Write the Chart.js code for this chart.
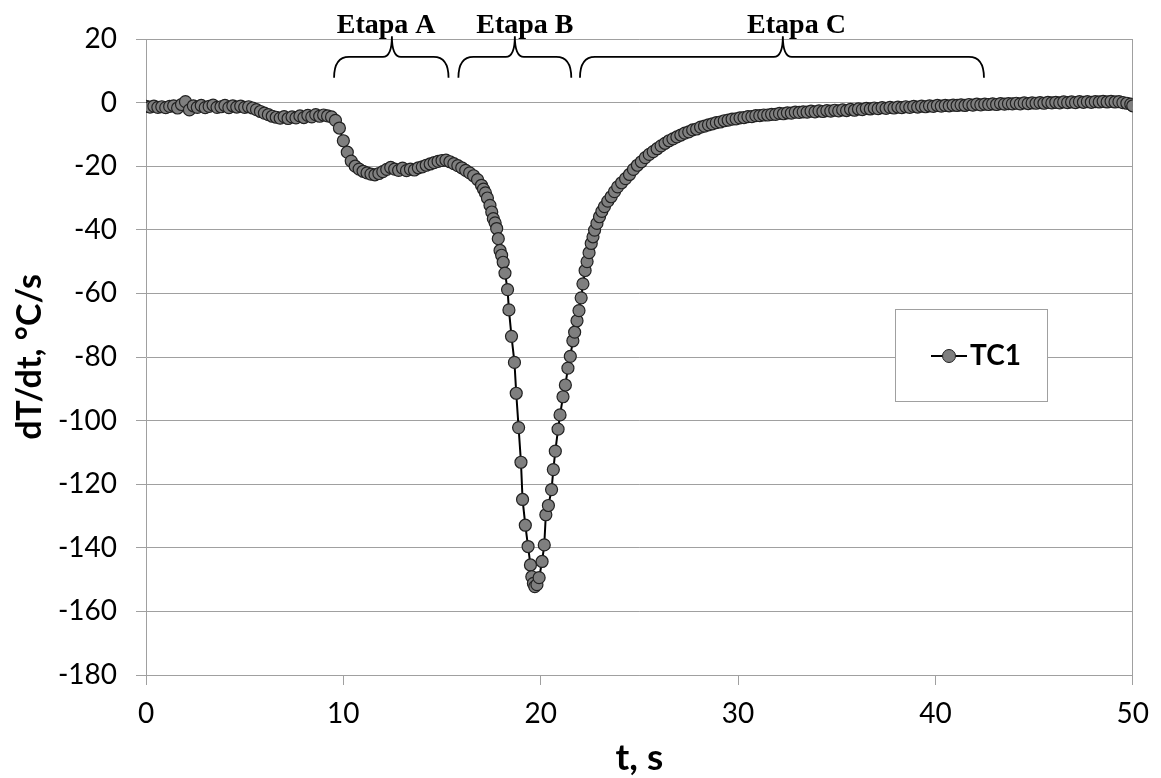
<!DOCTYPE html>
<html>
<head>
<meta charset="utf-8">
<title>dT/dt TC1</title>
<script src="https://cdn.jsdelivr.net/npm/chart.js@4.4.0/dist/chart.umd.min.js"></script>
<style>
  html, body { margin: 0; padding: 0; background: #fff; }
  #wrap { width: 1161px; height: 778px; }
</style>
</head>
<body>
<div id="wrap"><canvas id="rateChart" width="1161" height="778"></canvas></div>
<script>
// time, s
const times = [
  0, 0.2, 0.4, 0.6, 0.8, 1.0, 1.2, 1.4, 1.6, 1.8,
  2.0, 2.2, 2.4, 2.6, 2.8, 3.0, 3.2, 3.4, 3.6, 3.8,
  4.0, 4.2, 4.4, 4.6, 4.8, 5.0, 5.2, 5.4, 5.6, 5.8,
  6.0, 6.2, 6.4, 6.6, 6.8, 7.0, 7.2, 7.4, 7.6, 7.8,
  8.0, 8.2, 8.4, 8.6, 8.8, 9.0, 9.2, 9.4, 9.6, 9.8,
  10.0, 10.2, 10.4, 10.6, 10.8, 11.0, 11.2, 11.4, 11.6, 11.8,
  12.0, 12.2, 12.4, 12.6, 12.8, 13.0, 13.2, 13.4, 13.6, 13.8,
  14.0, 14.2, 14.4, 14.6, 14.8, 15.0, 15.2, 15.4, 15.6, 15.8,
  16.0, 16.2, 16.4, 16.6, 16.8,
  17.0, 17.1, 17.2, 17.3, 17.43, 17.52, 17.6, 17.69, 17.77, 17.85,
  17.94, 18.02, 18.1, 18.19, 18.32, 18.39, 18.52, 18.67, 18.76, 18.88,
  19.0, 19.08, 19.22, 19.36, 19.48, 19.55, 19.63, 19.70, 19.81, 19.92,
  20.07, 20.18, 20.26, 20.39, 20.55, 20.64, 20.74, 20.88, 20.98, 21.13,
  21.25, 21.38, 21.50, 21.63, 21.72, 21.84, 21.94, 22.05, 22.14, 22.25,
  22.35, 22.45, 22.56, 22.65, 22.73, 22.85, 22.98, 23.1, 23.23, 23.4,
  23.57, 23.74, 23.9,
  24.1, 24.3, 24.5, 24.7, 24.9, 25.1, 25.3, 25.5, 25.7, 25.9,
  26.1, 26.3, 26.5, 26.7, 26.9, 27.1, 27.3, 27.5, 27.7, 27.9,
  28.1, 28.3, 28.5, 28.7, 28.9, 29.1, 29.3, 29.5, 29.7, 29.9,
  30.1, 30.3, 30.5, 30.7, 30.9, 31.1, 31.3, 31.5, 31.7, 31.9,
  32.1, 32.3, 32.5, 32.7, 32.9, 33.1, 33.3, 33.5, 33.7, 33.9,
  34.1, 34.3, 34.5, 34.7, 34.9, 35.1, 35.3, 35.5, 35.7, 35.9,
  36.1, 36.3, 36.5, 36.7, 36.9, 37.1, 37.3, 37.5, 37.7, 37.9,
  38.1, 38.3, 38.5, 38.7, 38.9, 39.1, 39.3, 39.5, 39.7, 39.9,
  40.1, 40.3, 40.5, 40.7, 40.9, 41.1, 41.3, 41.5, 41.7, 41.9,
  42.1, 42.3, 42.5, 42.7, 42.9, 43.1, 43.3, 43.5, 43.7, 43.9,
  44.1, 44.3, 44.5, 44.7, 44.9, 45.1, 45.3, 45.5, 45.7, 45.9,
  46.1, 46.3, 46.5, 46.7, 46.9, 47.1, 47.3, 47.5, 47.7, 47.9,
  48.1, 48.3, 48.5, 48.7, 48.9, 49.1, 49.3, 49.5, 49.7, 49.9,
  50.0
];

// dT/dt, °C/s (TC1)
const rates = [
  -1.2, -1.4, -1.1, -1.5, -1.3, -1.6, -1.2, -1.0, -1.7, -0.6,
  0.3, -2.3, -1.0, -1.5, -0.9, -1.6, -1.2, -0.8, -1.5, -1.3,
  -0.9, -1.6, -1.0, -1.4, -1.1, -1.5, -1.3, -1.7, -2.2, -2.8,
  -3.3, -3.8, -4.3, -4.6, -4.9, -4.4, -5.0, -4.5, -4.8, -4.2,
  -4.7, -4.0, -4.5, -3.8, -4.3, -3.9, -4.2, -4.5, -5.6, -8.0,
  -12.0, -15.6, -18.4, -20.0, -20.9, -21.6, -22.1, -22.5, -22.7, -22.3,
  -21.7, -21.0, -20.4, -20.9, -21.3, -20.6, -21.4, -20.9, -21.2, -20.5,
  -20.2, -19.7, -19.3, -18.9, -18.5, -18.2, -18.1, -18.6, -19.2, -19.8,
  -20.5, -21.3, -22.1, -23.0, -24.2,
  -26.0, -27.2, -28.4, -30.0, -32.3, -34.4, -36.5, -37.8, -39.6, -42.8,
  -46.5, -48.0, -50.2, -53.6, -58.8, -65.2, -73.5, -81.7, -91.4, -102.2,
  -113.1, -124.8, -132.9, -139.6, -145.4, -149.1, -151.2, -152.2, -151.6, -149.4,
  -144.3, -139.1, -129.6, -126.7, -121.7, -115.4, -109.6, -102.7, -98.2, -92.5,
  -88.8, -83.5, -79.8, -74.9, -72.2, -68.6, -65.4, -61.4, -57.0, -52.8,
  -50.0, -47.2, -44.3, -42.2, -40.1, -38.0, -35.9, -34.2, -32.7, -31.0,
  -29.6, -28.0, -26.5,
  -25.2, -23.9, -22.6, -21.0, -19.7, -18.6, -17.3, -16.3, -15.4, -14.5,
  -13.6, -12.8, -12.0, -11.4, -10.8, -10.2, -9.6, -9.2, -8.6, -8.3,
  -7.7, -7.4, -7.0, -6.7, -6.3, -6.1, -5.7, -5.5, -5.2, -5.1,
  -4.8, -4.7, -4.4, -4.4, -4.1, -4.1, -3.9, -3.9, -3.7, -3.7,
  -3.4, -3.5, -3.2, -3.3, -3.0, -3.1, -2.9, -3.0, -2.7, -2.9,
  -2.6, -2.8, -2.5, -2.7, -2.4, -2.6, -2.3, -2.5, -2.1, -2.4,
  -2.0, -2.2, -1.8, -2.0, -1.7, -1.9, -1.6, -1.8, -1.5, -1.7,
  -1.4, -1.6, -1.3, -1.5, -1.2, -1.4, -1.1, -1.3, -1.0, -1.2,
  -0.9, -1.1, -0.9, -1.0, -0.8, -0.9, -0.7, -0.9, -0.6, -0.8,
  -0.5, -0.7, -0.5, -0.6, -0.4, -0.6, -0.3, -0.5, -0.3, -0.4,
  -0.2, -0.4, -0.1, -0.3, -0.1, -0.2, 0.0, -0.2, 0.1, -0.1,
  0.1, -0.1, 0.2, 0.0, 0.2, 0.0, 0.3, 0.1, 0.3, 0.1,
  0.3, 0.2, 0.4, 0.2, 0.4, 0.2, 0.3, 0.0, -0.2, -0.5,
  -1.0
];

// stage annotations (x in seconds)
const stageNames = ['Etapa A', 'Etapa B', 'Etapa C'];
const stageFrom = [9.53, 15.83, 21.99];
const stageTo = [15.33, 21.55, 42.46];
const stageTip = [12.46, 18.69, 32.27];
const stageLabelX = [12.17, 19.2, 32.96];

const GRID = '#a0a0a0';
const tickFont = { family: 'Lato', size: 28 };

// llaves + textos de las etapas encima del área
const stageBraces = {
  id: 'stageBraces',
  afterDraw(chart) {
    const { ctx, scales: { x, y } } = chart;
    const yEnd = y.getPixelForValue(7.8);
    const yMid = y.getPixelForValue(14.4);
    const yTip = y.getPixelForValue(20.9);
    ctx.save();
    ctx.strokeStyle = '#000';
    ctx.lineWidth = 1.8;
    ctx.fillStyle = '#000';
    ctx.font = 'bold 28px "Liberation Serif"';
    ctx.textAlign = 'center';
    ctx.textBaseline = 'alphabetic';
    stageNames.forEach((name, i) => {
      const xl = x.getPixelForValue(stageFrom[i]);
      const xr = x.getPixelForValue(stageTo[i]);
      const xm = x.getPixelForValue(stageTip[i]);
      ctx.beginPath();
      ctx.moveTo(xl, yEnd);
      ctx.quadraticCurveTo(xl, yMid, xl + 15, yMid);
      ctx.lineTo(xm - 9, yMid);
      ctx.quadraticCurveTo(xm, yMid, xm, yTip);
      ctx.quadraticCurveTo(xm, yMid, xm + 9, yMid);
      ctx.lineTo(xr - 15, yMid);
      ctx.quadraticCurveTo(xr, yMid, xr, yEnd);
      ctx.stroke();
      ctx.fillText(name, x.getPixelForValue(stageLabelX[i]), chart.chartArea.top - 6);
    });
    ctx.restore();
  }
};

// legend box inside the plot, like the Excel one
const legendBox = {
  id: 'legendBox',
  afterDraw(chart) {
    const { ctx, chartArea: a } = chart;
    const ds = chart.data.datasets[0];
    const left = Math.round(a.right) - 238, top = Math.round(a.top) + 270;
    const w = 152, h = 92, cy = top + 47;
    ctx.save();
    ctx.fillStyle = '#fff';
    ctx.fillRect(left, top, w, h);
    ctx.strokeStyle = GRID;
    ctx.lineWidth = 1;
    ctx.strokeRect(left + 0.5, top + 0.5, w, h);
    ctx.strokeStyle = ds.borderColor;
    ctx.lineWidth = 2;
    ctx.beginPath();
    ctx.moveTo(left + 36, cy);
    ctx.lineTo(left + 72, cy);
    ctx.stroke();
    ctx.beginPath();
    ctx.arc(left + 54, cy, 6.5, 0, Math.PI * 2);
    ctx.fillStyle = ds.pointBackgroundColor;
    ctx.fill();
    ctx.lineWidth = 1;
    ctx.strokeStyle = ds.pointBorderColor;
    ctx.stroke();
    ctx.fillStyle = '#000';
    ctx.font = 'bold 28px Lato';
    ctx.textAlign = 'left';
    ctx.textBaseline = 'middle';
    ctx.fillText(ds.label, left + 75, cy);
    ctx.restore();
  }
};

document.addEventListener('DOMContentLoaded', function() {
  const ctx = document.getElementById('rateChart');
  const points = times.map((t, i) => ({ x: t, y: rates[i] }));

  new Chart(ctx, {
    type: 'scatter',
    data: {
      datasets: [{
        label: 'TC1',
        data: points,
        showLine: true,
        borderColor: '#000',
        borderWidth: 2,
        pointRadius: 6,
        pointBackgroundColor: '#7f7f7f',
        pointBorderColor: '#222',
        pointBorderWidth: 1.2,
        tension: 0
      }]
    },
    options: {
      responsive: false,
      animation: false,
      devicePixelRatio: 1,
      layout: { padding: { top: 39, right: 24, left: 0, bottom: 0 } },
      plugins: {
        legend: { display: false },
        tooltip: { enabled: false }
      },
      scales: {
        x: {
          type: 'linear',
          min: 0,
          max: 50,
          ticks: { stepSize: 10, font: tickFont, color: '#000', padding: 12, maxRotation: 0 },
          grid: {
            color: c => (c.tick && c.tick.value === 50 ? GRID : 'rgba(0,0,0,0)'),
            tickColor: GRID,
            tickLength: 10
          },
          border: { color: GRID },
          title: {
            display: true,
            text: 't, s',
            color: '#000',
            font: { family: 'Lato', size: 37, weight: 'bold', lineHeight: 1 },
            padding: { top: 0, bottom: 1 }
          },
          afterFit: s => { s.height = 103; }
        },
        y: {
          min: -180,
          max: 20,
          ticks: { stepSize: 20, font: tickFont, color: '#000', padding: 19 },
          grid: { color: GRID, tickColor: GRID, tickLength: 10 },
          border: { color: GRID },
          title: {
            display: true,
            text: 'dT/dt, °C/s',
            color: '#000',
            font: { family: 'Lato', size: 34, weight: 'bold', lineHeight: 1 },
            padding: { top: 13, bottom: 0 }
          },
          afterFit: s => { s.width = 146; }
        }
      }
    },
    plugins: [stageBraces, legendBox]
  });
});
</script>
</body>
</html>
